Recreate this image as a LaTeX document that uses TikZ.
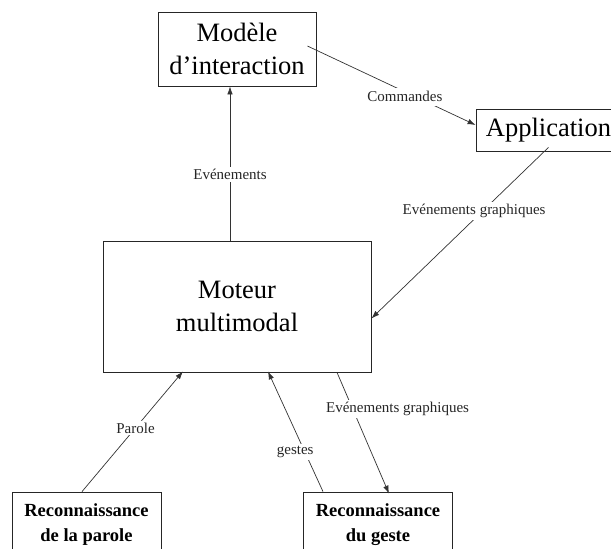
\documentclass[tikz,border=0pt]{standalone}
\usepackage{fontspec}
\setmainfont{Liberation Serif}
\usetikzlibrary{arrows.meta}
\begin{document}
\begin{tikzpicture}[x=1pt,y=-1pt,
  box/.style={draw=black!85,line width=0.8pt,align=center,inner sep=0pt,
    font=\fontsize{26.5}{33}\selectfont},
  recbox/.style={draw=black!85,line width=0.8pt,align=center,inner sep=0pt,
    font=\fontsize{18.5}{25}\selectfont\bfseries,minimum width=149pt,minimum height=66pt},
  conn/.style={draw=black!80,line width=0.7pt,-{Latex[length=8pt,width=5.5pt]}},
  lab/.style={fill=white,inner sep=2pt,font=\fontsize{15}{17}\selectfont,text=black!85}]
\useasboundingbox (0,0) rectangle (611,549);
\clip (0,0) rectangle (611,549);
\node[box,minimum width=158pt,minimum height=74pt] (modele) at (237,49) {Modèle\\d’interaction};
\node[box,minimum width=145pt,minimum height=42pt] (app) at (548.5,130) {Application};
\node[box,minimum width=268pt,minimum height=131pt] (moteur) at (237,306.5) {Moteur\\multimodal};
\node[recbox] (parole) at (86.5,525) {Reconnaissance\\de la parole};
\node[recbox] (geste) at (378,525) {Reconnaissance\\du geste};
\draw[conn] ([xshift=-7pt]moteur.north) -- node[lab,pos=0.43]{Evénements} ([xshift=-7pt]modele.south);
\draw[conn] ([xshift=-9pt,yshift=3pt]modele.east) -- node[lab,pos=0.58,yshift=-5pt,inner ysep=4pt]{Commandes} ([yshift=5pt]app.west);
\draw[conn] ([yshift=4pt]app.south) -- node[lab,pos=0.42,yshift=8pt]{Evénements graphiques} ([yshift=-12pt]moteur.east);
\draw[conn] ([xshift=-4.5pt]parole.north) -- node[lab,pos=0.53]{Parole} ([xshift=-54pt,yshift=1pt]moteur.south);
\draw[conn] ([xshift=-55pt]geste.north) -- node[lab,pos=0.36,xshift=-8pt,yshift=-4pt]{gestes} ([xshift=31pt,yshift=1pt]moteur.south);
\draw[conn] ([xshift=100pt]moteur.south) -- node[lab,pos=0.3,xshift=45pt]{Evénements graphiques} ([xshift=11pt,yshift=-2pt]geste.north);
\end{tikzpicture}
\end{document}
